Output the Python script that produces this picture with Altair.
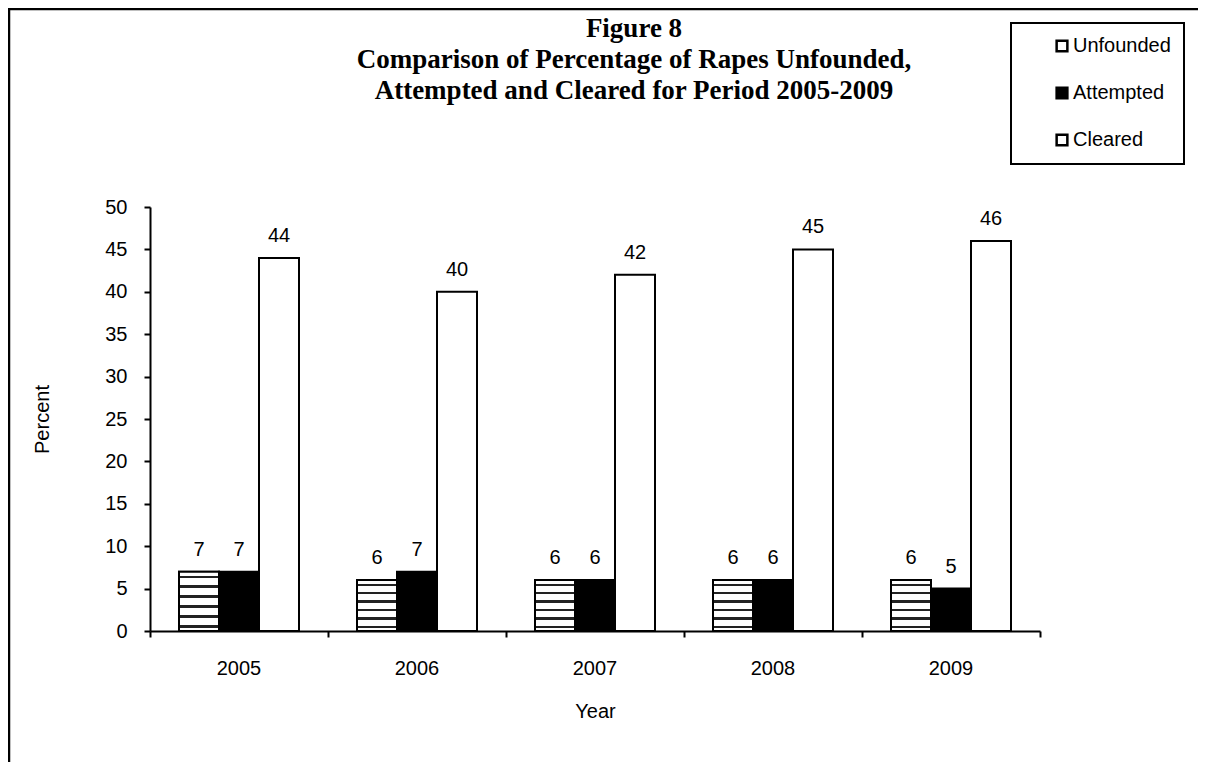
import altair as alt
import pandas as pd

years = ["2005", "2006", "2007", "2008", "2009"]
series = ["Unfounded", "Attempted", "Cleared"]
unfounded = [7, 6, 6, 6, 6]
attempted = [7, 7, 6, 6, 5]
cleared = [44, 40, 42, 45, 46]
y_ticks = [0, 5, 10, 15, 20, 25, 30, 35, 40, 45, 50]
title_lines = ["Figure 8",
               "Comparison of Percentage of Rapes Unfounded,",
               "Attempted and Cleared for Period 2005-2009"]

rows = []
for i, yr in enumerate(years):
    for s, vals in zip(series, [unfounded, attempted, cleared]):
        rows.append({"Year": yr, "Series": s, "Percent": vals[i]})
df = pd.DataFrame(rows)

SANS = "Liberation Sans"
FS = 20

# horizontal stripe gradient for Unfounded bars
stops = []
n = 6
for k in range(n):
    a = k / n
    stops += [
        alt.GradientStop(offset=a + 0.40 / n, color="white"),
        alt.GradientStop(offset=a + 0.40 / n, color="#222222"),
        alt.GradientStop(offset=a + 0.68 / n, color="#222222"),
        alt.GradientStop(offset=a + 0.68 / n, color="white"),
    ]
stripes = alt.LinearGradient(gradient="linear", stops=stops, x1=0, x2=0, y1=0, y2=1)

x_enc = alt.X("Year:N", sort=years,
              scale=alt.Scale(paddingInner=0, paddingOuter=0),
              axis=alt.Axis(title="Year", ticks=False, tickSize=0, domain=False,
                            labelPadding=27, labelAngle=0, titlePadding=23,
                            labelFont=SANS, labelFontSize=FS, labelColor="black",
                            titleFont=SANS, titleFontSize=FS, titleFontWeight="normal",
                            titleColor="black"))
xo_enc = alt.XOffset("Series:N", sort=series,
                     scale=alt.Scale(domain=series, paddingInner=0, paddingOuter=0.725))
y_enc = alt.Y("Percent:Q",
              scale=alt.Scale(domain=[0, 50], nice=False),
              axis=alt.Axis(title="Percent", values=y_ticks, grid=False,
                            tickSize=6, tickWidth=2, tickColor="black",
                            domainWidth=2, domainColor="black",
                            labelPadding=17, labelFont=SANS, labelFontSize=FS,
                            labelColor="black", titleFont=SANS, titleFontSize=FS,
                            titleFontWeight="normal", titleColor="black",
                            titlePadding=52))

base = alt.Chart(df)

bars = base.mark_bar(stroke="black", strokeWidth=2).encode(
    x=x_enc, xOffset=xo_enc, y=y_enc,
    fill=alt.Fill("Series:N", sort=series,
                  scale=alt.Scale(domain=series, range=["white", "black", "white"]),
                  legend=alt.Legend(title=None, orient="none", legendX=861, legendY=-184,
                                    padding=13, symbolOffset=28, labelOffset=1,
                                    rowPadding=25, symbolType="square", symbolSize=115,
                                    symbolStrokeWidth=2.5, symbolStrokeColor="black",
                                    labelFont=SANS, labelFontSize=FS, labelColor="black",
                                    strokeColor="black", fillColor="white")),
)

overlay = base.transform_filter(alt.datum.Series == "Unfounded").mark_bar(
    stroke="black", strokeWidth=2, fill=stripes
).encode(x=x_enc, xOffset=xo_enc, y=y_enc)

labels = base.mark_text(baseline="alphabetic", dy=-16, font=SANS, fontSize=FS,
                        color="black").encode(
    x=x_enc, xOffset=xo_enc, y=y_enc, text=alt.Text("Percent:Q"))

inner = alt.layer(bars, overlay, labels)

tick_df = pd.DataFrame({"pos": [0, 5]})
tick_layer = alt.Chart(tick_df).mark_point(opacity=0).encode(
    x=alt.X("pos:Q", scale=alt.Scale(domain=[0, 5], nice=False, zero=False),
            axis=alt.Axis(orient="bottom", values=[0, 1, 2, 3, 4, 5], labels=False,
                          title=None, grid=False, tickSize=6, tickWidth=2,
                          tickColor="black", domainWidth=2, domainColor="black"))
)

frame = alt.Chart(pd.DataFrame({"f": [0]})).mark_rect(
    fill="white", fillOpacity=0, stroke="black", strokeWidth=2.5
).encode(x=alt.value(-141), x2=alt.value(2000), y=alt.value(-198), y2=alt.value(2000))

chart = alt.layer(frame, inner, tick_layer).resolve_scale(x="independent").properties(
    width=890, height=424,
    autosize=alt.AutoSizeParams(type="none"),
    padding={"left": 142, "top": 199, "right": 158, "bottom": 131},
    title=alt.TitleParams(text=title_lines, font="Liberation Serif", fontSize=27,
                          fontWeight="bold", color="black", lineHeight=31,
                          anchor="middle", dx=39, offset=0, dy=97),
).configure_view(stroke=None).configure_legend(strokeWidth=2)

chart.save("out.html", embed_options={"renderer": "svg", "actions": False})
